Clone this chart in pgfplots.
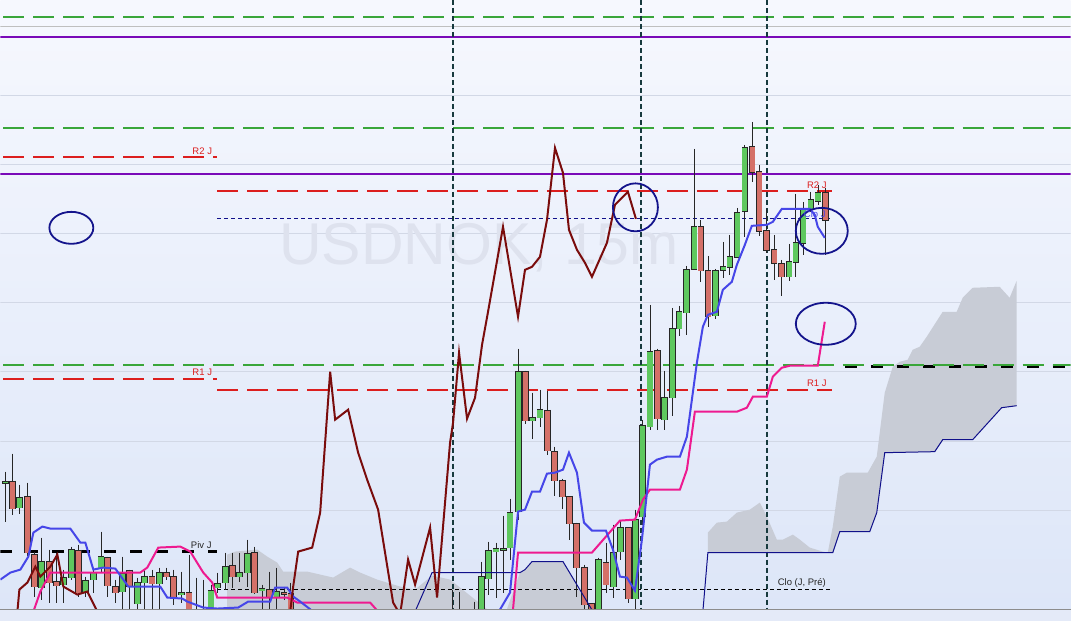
\documentclass[border=0pt]{standalone}
\usepackage{pgfplots}
\pgfplotsset{compat=1.18}
\usepackage{pgfplotstable}
\usepackage{fontspec}
\setmainfont{Liberation Sans}
\definecolor{bgtop}{RGB}{246,248,254}
\definecolor{bgbot}{RGB}{221,230,248}
\definecolor{stripc}{RGB}{228,234,248}
\definecolor{gridc}{RGB}{210,216,230}
\definecolor{lvgreen}{RGB}{58,166,58}
\definecolor{lvred}{RGB}{220,30,30}
\definecolor{lvpurple}{RGB}{122,10,184}
\definecolor{maroon}{RGB}{122,12,12}
\definecolor{tenkan}{RGB}{70,70,232}
\definecolor{kijun}{RGB}{238,26,144}
\definecolor{senkou}{RGB}{16,16,138}
\definecolor{cloud}{RGB}{200,204,214}
\definecolor{cgreen}{RGB}{94,200,94}
\definecolor{cred}{RGB}{212,112,104}
\definecolor{vline}{RGB}{23,58,62}
\definecolor{ring}{RGB}{20,20,140}
\definecolor{wm}{RGB}{222,226,238}

\pgfplotsset{
  wick/.style={draw=none, mark=none, forget plot,
    error bars/.cd, y dir=plus, y explicit, error mark=none,
    error bar style={draw=black!85, line width=0.8pt, solid}},
  bodyout/.style={draw=none, mark=none, forget plot,
    error bars/.cd, y dir=plus, y explicit, error mark=none,
    error bar style={draw=black!85, line width=6.6pt, solid}},
  bodyfill/.style={draw=none, mark=none, forget plot,
    error bars/.cd, y dir=plus, y explicit, error mark=none,
    error bar style={draw=#1, line width=5.2pt, solid}},
}

% candles: x, body top (t), body bottom (b), high (h), low (l) -- in pixel rows
\pgfplotstableread{
x t b h l
5 482 483.5 472 522
19.3 498 508 485 514
41.3 562 588 538 600
63.3 578 585 570 603
71 550 578 547 580
85.3 581 592 577 597
93.3 573 580 568 593
100.7 557 568 532 573
122.3 574 592 557 615
137.3 583 604 578 615
144.3 577 583 570 615
159.3 573 584 568 615
181 593 595 572 603
210.7 591 615 585 620
217.3 584 588 573 593
225.3 567 583 553 590
239.3 573 577 553 582
247 554 573 540 587
261.7 589 591 585 615
276.7 592 597 568 615
481.3 577 615 562 620
488.3 551 579 542 595
496 549 552 543 598
503.3 549 550.5 516 593
510 513 548 499 560
518.3 372 512 349 520
532.3 418 421 393 439
540 410 418 390 427
598.3 560 615 558 620
613.3 553 587 525 598
620.3 528 552 520 560
635.3 520 599 510 610
642.5 426 517 420 525
650 352 427 305 430
664.3 398 420 371 430
672.3 329 398 308 416
679.3 312 329 306 336
686.7 270 313 266 335
694.3 227 269 149 270
715.7 271 316 269 319
723.3 267 270 242 278
730 257 267 235 275
737.3 213 257 208 258
745 148 211 145 237
789.3 262 277 244 281
796 243 262 194 277
803.3 209 243 202 255
811 200 209 192 212
818.3 193 201 185 205
}\greens
\pgfplotstableread{
x t b h l
12.3 482 509 454 515
27.3 497 553 483 556
34.3 555 587 552 597
49.3 562 583 550 603
56.3 582 586 553 603
78.3 551 593 545 597
107.3 558 586 557 597
115.3 587 593 580 603
129.3 571 587 570 615
151.7 577 584 570 615
166 573 577 568 580
173.3 577 597 570 605
188.7 593 620 555 625
196 614 620 578 625
203.3 614 620 580 625
232.3 566 577 553 588
254 553 593 547 594
269.3 590 598 572 615
284 593 594.5 587 600
290.7 594 615 583 620
452.7 614 620 590 625
459.3 614 620 592 625
474 614 620 602 625
525.7 372 421 371 424
547.3 411 451 391 455
554.3 452 481 447 496
562.3 481 497 479 509
569.3 497 524 497 540
576.7 524 568 523 597
584.3 568 605 565 615
591.7 604 615 604 620
606 563 585 543 593
628.3 528 599 528 603
657.3 351 419 349 430
701 227 271 220 282
708.3 271 317 256 327
752.3 147 172 122 182
759.3 172 231 165 236
766.7 231 250 209 253
774.3 250 263 235 280
781.7 264 277 260 296
826 193 220 188 255
}\reds

\begin{document}
\begin{tikzpicture}
\fill[stripc] (0,-11pt) rectangle (1071pt,0);
\begin{axis}[
  at={(0,0)}, anchor=south west,
  width=1071pt, height=610pt, scale only axis,
  xmin=0, xmax=1071, ymin=0, ymax=610, y dir=reverse,
  axis line style={draw=none}, xtick=\empty, ytick=\empty,
  axis background/.style={top color=bgtop, bottom color=bgbot},
]
% grid
\addplot[gridc, line width=0.8pt] coordinates {(0,95) (1071,95)};
\addplot[gridc, line width=0.8pt] coordinates {(0,165) (1071,165)};
\addplot[gridc, line width=0.8pt] coordinates {(0,234) (1071,234)};
\addplot[gridc, line width=0.8pt] coordinates {(0,303) (1071,303)};
\addplot[gridc, line width=0.8pt] coordinates {(0,372) (1071,372)};
\addplot[gridc, line width=0.8pt] coordinates {(0,442) (1071,442)};
\addplot[gridc, line width=0.8pt] coordinates {(0,511) (1071,511)};
\addplot[black!25, line width=0.8pt] coordinates {(0,26) (1071,26)};

% cloud
\addplot[draw=none, fill=cloud] coordinates {
(227,615) (227,555) (235,552) (257,550) (267,557) (277,563) (283,572) (307,572)
(333,578) (350,568) (360,573) (377,580) (400,587) (415,590) (432,576) (450,580)
(470,596) (490,612) (490,615)} -- cycle;
\addplot[draw=none, fill=cloud] coordinates {
(505,615) (520,573) (525,570) (532,562) (563,562) (593,615)} -- cycle;
\addplot[draw=none, fill=cloud] coordinates {
(708,553) (708,533) (717,523) (727,522) (737,513) (750,510) (760,503) (767,517)
(777,540) (783,540) (793,535) (800,540) (810,548) (823,552) (828,553) (833,527)
(840,477) (847,473) (868,473) (877,457) (880,433) (885,393) (893,367) (900,362)
(908,360) (913,350) (920,347) (927,337) (943,312) (957,312) (963,298) (973,288)
(1000,287) (1010,298) (1017,281) (1017,406) (1002,408) (973,440) (943,440)
(935,452) (885,453) (877,513) (870,532) (840,532) (833,553)} -- cycle;

% watermark
\node[font=\fontsize{59}{59}\selectfont, text=wm, anchor=base] at (axis cs:479,265) {USDNOK, 15m};

% levels
\addplot[lvgreen, line width=2pt, dash pattern=on 21pt off 9pt, dash phase=-3pt] coordinates {(0,17) (1071,17)};
\addplot[lvgreen, line width=2pt, dash pattern=on 21pt off 9pt, dash phase=-3pt] coordinates {(0,128) (1071,128)};
\addplot[lvpurple, line width=2pt] coordinates {(0,37) (1071,37)};
\addplot[lvpurple, line width=2pt] coordinates {(0,174) (1071,174)};
\addplot[lvred, line width=2pt, dash pattern=on 21pt off 9pt, dash phase=-3pt] coordinates {(0,157) (217,157)};
\addplot[lvred, line width=2pt, dash pattern=on 21pt off 9pt, dash phase=-3pt] coordinates {(0,379) (217,379)};
\addplot[lvred, line width=2pt, dash pattern=on 21pt off 9pt] coordinates {(217,191) (832,191)};
\addplot[lvred, line width=2pt, dash pattern=on 21pt off 9pt] coordinates {(217,390) (832,390)};
\addplot[senkou, line width=0.8pt, dash pattern=on 4pt off 3pt] coordinates {(217,219) (832,219)};
\addplot[black, line width=0.8pt, dash pattern=on 4pt off 3pt] coordinates {(217,590) (832,590)};
\addplot[black, line width=2.5pt, dash pattern=on 12pt off 14pt] coordinates {(0,552) (217,552)};
\addplot[black, line width=2.5pt, dash pattern=on 12pt off 14pt, dash phase=-12pt] coordinates {(833,367) (1071,367)};
\addplot[lvgreen, line width=2pt, dash pattern=on 21pt off 9pt, dash phase=-3pt] coordinates {(0,365) (1071,365)};

% vertical session lines
\addplot[vline, line width=2pt, dash pattern=on 5pt off 3pt] coordinates {(453,0) (453,610)};
\addplot[vline, line width=2pt, dash pattern=on 5pt off 3pt] coordinates {(641,0) (641,610)};
\addplot[vline, line width=2pt, dash pattern=on 5pt off 3pt] coordinates {(767,0) (767,610)};

% candles: wicks, body outlines, body fills
\addplot[wick] table[x=x, y=h, y error expr=\thisrow{l}-\thisrow{h}] {\greens};
\addplot[wick] table[x=x, y=h, y error expr=\thisrow{l}-\thisrow{h}] {\reds};
\addplot[bodyout] table[x=x, y expr=\thisrow{t}-0.7, y error expr=\thisrow{b}-\thisrow{t}+1.4] {\greens};
\addplot[bodyout] table[x=x, y expr=\thisrow{t}-0.7, y error expr=\thisrow{b}-\thisrow{t}+1.4] {\reds};
\addplot[bodyfill=cgreen] table[x=x, y=t, y error expr=\thisrow{b}-\thisrow{t}] {\greens};
\addplot[bodyfill=cred] table[x=x, y=t, y error expr=\thisrow{b}-\thisrow{t}] {\reds};

% senkou line
\addplot[senkou, line width=1pt] coordinates {
(415,612) (432,573) (450,573) (520,573) (525,570) (532,562) (563,562) (593,612)
(703,612) (708,553) (833,553) (840,532) (870,532) (877,513) (885,453) (935,452)
(943,440) (973,440) (1002,408) (1017,406)};

% kijun
\addplot[kijun, line width=2pt] coordinates {
(33,612) (40,592) (50,573) (110,573) (140,573) (147,568) (158,548) (180,547)
(190,552) (203,573) (212,583) (217,598) (287,598) (297,603) (370,603) (378,612)
(510,615) (513,610) (518,553) (592,553) (620,521) (635,520) (643,500) (650,490)
(680,490) (687,470) (695,412) (737,412) (747,408) (753,397) (767,397) (773,377)
(782,368) (790,366) (818,366) (825,322)};

% tenkan
\addplot[tenkan, line width=2pt] coordinates {
(0,580) (10,573) (20,570) (28,557) (33,533) (42,527) (50,529) (70,529) (80,543)
(85,543) (93,570) (103,568) (115,569) (128,587) (160,587) (167,598) (182,599)
(187,602) (203,608) (217,609) (238,608) (248,602) (270,602) (275,588) (287,588)
(293,597) (300,602) (313,612) (495,615) (500,610) (510,593) (518,512) (525,510)
(532,492) (540,492) (547,474) (555,473) (563,470) (569,453) (577,473) (584,523)
(592,531) (606,531) (613,550) (620,577) (627,578) (635,591) (642,540) (650,465)
(657,460) (667,457) (680,457) (687,437) (697,363) (703,327) (708,315) (717,312)
(723,290) (732,282) (737,265) (745,245) (752,226) (767,225) (773,222) (782,209)
(810,209) (815,215) (818,227) (825,238)};

% oscillator (maroon)
\addplot[maroon, line width=2pt] coordinates {
(17,612) (19,590) (27,583) (35,567) (40,577) (50,567) (57,555) (63,587) (77,595)
(87,592) (97,612) (110,640) (280,640) (290,612) (293,587) (298,552) (312,548)
(320,513) (330,372) (335,420) (348,410) (358,453) (367,480) (378,510) (393,603)
(400,615) (408,560) (415,585) (430,528) (437,598) (450,443) (453,423) (459,353)
(467,419) (475,398) (482,345) (488,312) (503,227) (518,317) (525,270) (532,267)
(540,257) (547,220) (555,148) (563,173) (569,230) (577,250) (585,263) (592,277)
(607,243) (615,205) (628,192) (636,219)};

% rings
\draw[ring, line width=1.8pt] (axis cs:71,228) ellipse [x radius=22pt, y radius=16pt];
\draw[ring, line width=1.8pt] (axis cs:635.5,207.5) ellipse [x radius=22.5pt, y radius=24pt];
\draw[ring, line width=1.8pt] (axis cs:822,231) ellipse [x radius=26pt, y radius=23pt];
\draw[ring, line width=1.8pt] (axis cs:826,324) ellipse [x radius=30pt, y radius=21pt];

% labels
\node[font=\fontsize{9.5}{10}\selectfont, text=lvred] at (axis cs:202,151) {R2 J};
\node[font=\fontsize{9.5}{10}\selectfont, text=lvred] at (axis cs:202,373) {R1 J};
\node[font=\fontsize{9.5}{10}\selectfont, text=lvred] at (axis cs:817,185) {R2 J};
\node[font=\fontsize{9.5}{10}\selectfont, text=lvred] at (axis cs:817,384) {R1 J};
\node[font=\fontsize{9.5}{10}\selectfont, text=tenkan] at (axis cs:815,214) {Clo J};
\node[font=\fontsize{9.5}{10}\selectfont, text=black!85] at (axis cs:201,546) {Piv J};
\node[font=\fontsize{9.5}{10}\selectfont, text=black!85] at (axis cs:802,583) {Clo (J, Pré)};
\end{axis}
\draw[black!45, line width=0.8pt] (0,0) -- (1071pt,0);
\end{tikzpicture}
\end{document}
